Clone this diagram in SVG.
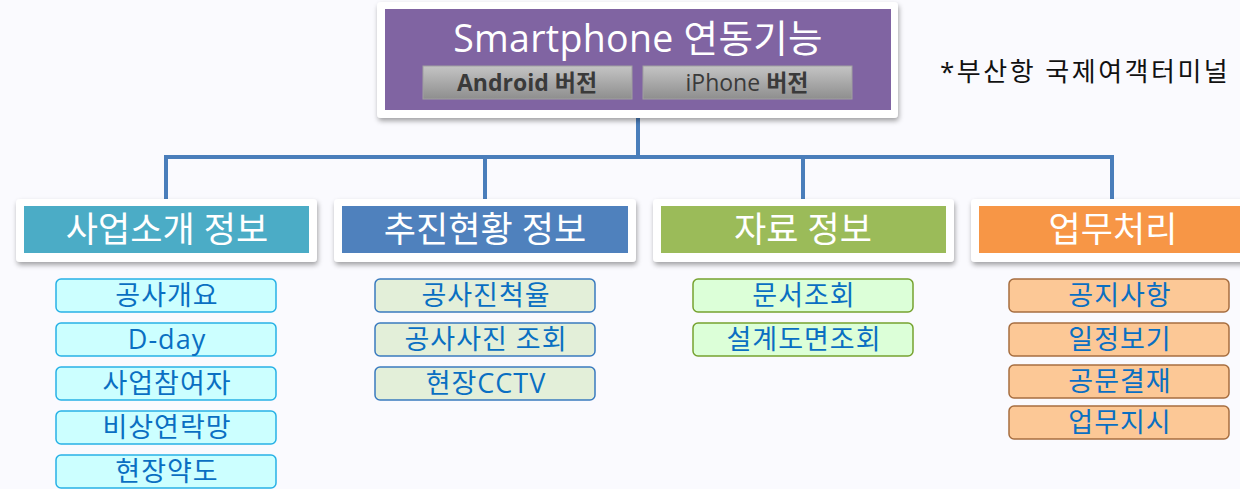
<svg xmlns="http://www.w3.org/2000/svg" width="1240" height="489" viewBox="0 0 1240 489">
<defs>
<filter id="sh" x="-10%" y="-20%" width="120%" height="150%">
<feDropShadow dx="1" dy="3" stdDeviation="2.5" flood-color="#000" flood-opacity="0.35"/>
</filter>
<linearGradient id="gb" x1="0" y1="0" x2="0" y2="1">
<stop offset="0" stop-color="#c4c4c4"/>
<stop offset="1" stop-color="#8e8e8e"/>
</linearGradient>
</defs>
<style>
text{font-family:"Open Sans","Noto Sans CJK KR",sans-serif;text-anchor:middle}
.frame{fill:#fff;filter:url(#sh)}
.hd{fill:#fff;font-size:35px}
.it{fill:#0a6fc2;font-size:27px;letter-spacing:1px}
.c1{fill:#ccffff;stroke:#27b1e6;stroke-width:1.5}
.c2{fill:#e3efd9;stroke:#3a7bbf;stroke-width:1.5}
.c3{fill:#dcffd8;stroke:#76a22f;stroke-width:1.5}
.c4{fill:#fcc896;stroke:#a66e40;stroke-width:1.5}
.btn{fill:url(#gb);stroke:#a0a0a0;stroke-width:1}
.conn{fill:none;stroke:#4a7ebb;stroke-width:4}
</style>
<rect width="1240" height="489" fill="#fafafe"/>

<g id="connectors">
<path class="conn" d="M638 118 V157 M166 157 H1112 M166 155 V200 M485 155 V200 M803 155 V200 M1112 155 V200"/>
</g>

<g id="root">
<rect class="frame" x="377" y="2" width="521" height="116" rx="4"/>
<rect x="385" y="9" width="506" height="101" fill="#8064a2"/>
<text x="638" y="52" font-size="37.5" fill="#fff" letter-spacing="0.3">Smartphone 연동기능</text>
<rect class="btn" x="423" y="66" width="209" height="33"/>
<text x="527" y="91" font-size="23" fill="#3a3a3a" font-weight="bold">Android 버전</text>
<rect class="btn" x="643" y="66" width="209" height="33"/>
<text x="747" y="91" font-size="23" fill="#3a3a3a"><tspan>iPhone </tspan><tspan font-weight="bold">버전</tspan></text>
</g>

<g id="note">
<text x="940" y="81" font-size="26" fill="#111" letter-spacing="2.5" style="text-anchor:start">*부산항 국제여객터미널</text>
</g>

<g id="cat1">
<rect class="frame" x="16" y="199" width="301" height="63" rx="4"/>
<rect x="24" y="206" width="285" height="47" fill="#4bacc6"/>
<text class="hd" x="167" y="242">사업소개 정보</text>
</g>
<g id="cat2">
<rect class="frame" x="334" y="199" width="302" height="63" rx="4"/>
<rect x="342" y="206" width="286" height="47" fill="#4f81bd"/>
<text class="hd" x="485" y="242">추진현황 정보</text>
</g>
<g id="cat3">
<rect class="frame" x="653" y="199" width="301" height="63" rx="4"/>
<rect x="661" y="206" width="285" height="47" fill="#9bbb59"/>
<text class="hd" x="803" y="242">자료 정보</text>
</g>
<g id="cat4">
<rect class="frame" x="971" y="199" width="300" height="63" rx="4"/>
<rect x="979" y="206" width="290" height="47" fill="#f79646"/>
<text class="hd" x="1113" y="242">업무처리</text>
</g>

<g id="i1a"><rect class="c1" x="56" y="279" width="220" height="33" rx="5"/><text class="it" x="167" y="305">공사개요</text></g>
<g id="i1b"><rect class="c1" x="56" y="323" width="220" height="33" rx="5"/><text class="it" x="167" y="349">D-day</text></g>
<g id="i1c"><rect class="c1" x="56" y="367" width="220" height="33" rx="5"/><text class="it" x="167" y="393">사업참여자</text></g>
<g id="i1d"><rect class="c1" x="56" y="411" width="220" height="33" rx="5"/><text class="it" x="167" y="437">비상연락망</text></g>
<g id="i1e"><rect class="c1" x="56" y="455" width="220" height="33" rx="5"/><text class="it" x="167" y="481">현장약도</text></g>

<g id="i2a"><rect class="c2" x="375" y="279" width="220" height="33" rx="5"/><text class="it" x="486" y="305">공사진척율</text></g>
<g id="i2b"><rect class="c2" x="375" y="323" width="220" height="33" rx="5"/><text class="it" x="486" y="349">공사사진 조회</text></g>
<g id="i2c"><rect class="c2" x="375" y="367" width="220" height="33" rx="5"/><text class="it" x="486" y="393">현장CCTV</text></g>

<g id="i3a"><rect class="c3" x="693" y="279" width="220" height="33" rx="5"/><text class="it" x="804" y="305">문서조회</text></g>
<g id="i3b"><rect class="c3" x="693" y="323" width="220" height="33" rx="5"/><text class="it" x="804" y="349">설계도면조회</text></g>

<g id="i4a"><rect class="c4" x="1009" y="279" width="220" height="33" rx="5"/><text class="it" x="1120" y="305">공지사항</text></g>
<g id="i4b"><rect class="c4" x="1009" y="323" width="220" height="33" rx="5"/><text class="it" x="1120" y="349">일정보기</text></g>
<g id="i4c"><rect class="c4" x="1009" y="365" width="220" height="33" rx="5"/><text class="it" x="1120" y="391">공문결재</text></g>
<g id="i4d"><rect class="c4" x="1009" y="406" width="220" height="33" rx="5"/><text class="it" x="1120" y="432">업무지시</text></g>
</svg>
